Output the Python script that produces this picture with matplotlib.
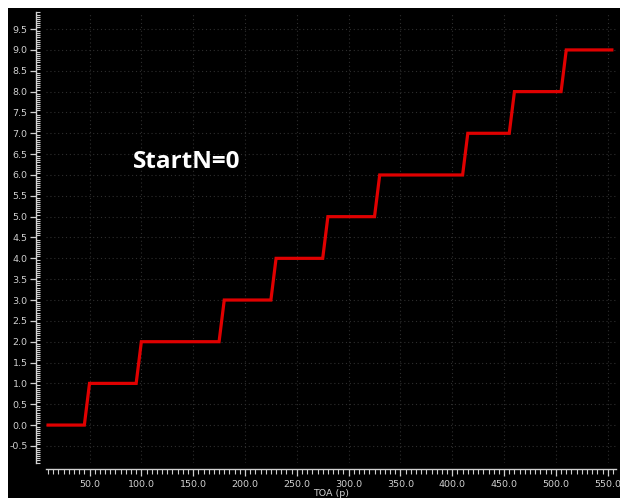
import matplotlib
matplotlib.use("Agg")
import matplotlib.pyplot as plt
from matplotlib.patches import Rectangle
from matplotlib.ticker import MultipleLocator, FormatStrFormatter

# Staircase transfer: output code vs. time of arrival
toa = [10, 45, 50, 95, 100, 175, 180, 225, 230, 275, 280, 325, 330, 410,
       415, 455, 460, 505, 510, 554]
code = [0, 0, 1, 1, 2, 2, 3, 3, 4, 4, 5, 5, 6, 6, 7, 7, 8, 8, 9, 9]
annotation = "StartN=0"
x_label = "TOA (p)"

W, H, DPI = 620, 498, 100
fig = plt.figure(figsize=(W / DPI, H / DPI), dpi=DPI, facecolor="white")
fig.patches.append(Rectangle((8 / W, 0), 1 - 8 / W, 1 - 8 / H,
                             transform=fig.transFigure, facecolor="black",
                             edgecolor="none", zorder=-10))

ax = fig.add_axes([46 / W, 35 / H, 570 / W, 451 / H])
ax.set_facecolor("none")

fg = "#d0d0d0"
ax.plot(toa, code, color="#e00000", lw=2.3, solid_joinstyle="miter", zorder=3)

ax.set_xlim(8, 558)
ax.set_ylim(-0.91, 9.91)

ax.xaxis.set_major_locator(MultipleLocator(50))
ax.xaxis.set_minor_locator(MultipleLocator(5))
ax.yaxis.set_major_locator(MultipleLocator(0.5))
ax.yaxis.set_minor_locator(MultipleLocator(0.05))
ax.xaxis.set_major_formatter(FormatStrFormatter("%.1f"))
ax.yaxis.set_major_formatter(FormatStrFormatter("%.1f"))

for side in ("top", "right"):
    ax.spines[side].set_visible(False)
ax.spines["left"].set_position(("outward", 7.2))
ax.spines["bottom"].set_position(("outward", 4.3))
for side in ("left", "bottom"):
    ax.spines[side].set_color(fg)
    ax.spines[side].set_linewidth(1.0)

ax.tick_params(axis="both", which="major", colors=fg, labelsize=6.8,
               direction="out", width=0.9)
ax.tick_params(axis="x", which="major", length=5, pad=3)
ax.tick_params(axis="y", which="major", length=4, pad=2)
ax.tick_params(axis="x", which="minor", colors=fg, direction="out",
               length=3.5, width=0.8)
ax.tick_params(axis="y", which="minor", colors=fg, direction="in",
               length=3, width=0.8)

ax.grid(True, which="major", color="#2e2e2e", linestyle=(0, (1, 2.5)), lw=0.8)

ax.set_xlabel(x_label, color=fg, fontsize=6.8, labelpad=0)

ax.text(144, 6.3, annotation, color="white", fontsize=17.5,
        fontweight="bold", family="Open Sans", ha="center", va="center")

fig.savefig("out.png", dpi=DPI, facecolor="white")
